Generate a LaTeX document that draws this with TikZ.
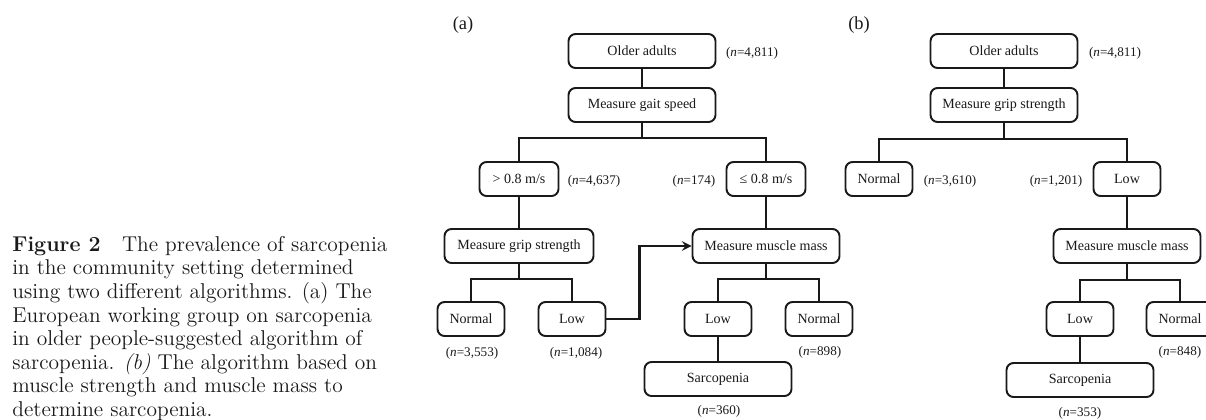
\documentclass[tikz,border=0pt]{standalone}
\usepackage{fontspec}
\usepackage{tikz}
\usetikzlibrary{arrows, positioning, calc}
\newfontfamily\tnr{Liberation Serif}
\newcommand{\boxheight}{0.68cm}
\definecolor{tinta}{RGB}{25,25,25}
\tikzset{>=stealth,
  block/.style = {draw=tinta, line width=1.1pt, rounded corners=4pt, minimum height=\boxheight, inner sep=1pt, font=\tnr\fontsize{8}{9}\selectfont, text=tinta},
  blockwide/.style = {block, minimum width=2.94cm},
  blockmid/.style = {block, minimum width=1.58cm},
  blocksmall/.style = {block, minimum width=1.34cm},
  count/.style = {font=\tnr\fontsize{7.5}{9}\selectfont, text=tinta, inner sep=0pt},
  conn/.style = {draw=tinta, line width=1.4pt}}

\begin{document}
\begin{tikzpicture}[x=0.02cm, y=-0.02cm]

  \useasboundingbox (0,0) rectangle (1206,419);
  \clip (0,0) rectangle (1206,419);

  \node [anchor=north west, align=left, inner sep=0pt, text=tinta, font=\fontsize{12.2}{13.4}\selectfont] (caption) at (12,236)
    {\textbf{Figure 2}\quad The prevalence of sarcopenia\\
     in the community setting determined\\
     using two different algorithms. (a) The\\
     European working group on sarcopenia\\
     in older people-suggested algorithm of\\
     sarcopenia. \textit{(b)} The algorithm based on\\
     muscle strength and muscle mass to\\
     determine sarcopenia.};

  % (a)
  \node [font=\tnr\fontsize{10.5}{12}\selectfont, text=tinta] (labelA) at (463,25) {(a)};
  \node [blockwide] (olderA) at (642,51) {Older adults};
  \node [count] (nOlderA) at (752,53) {(\textit{n}=4,811)};
  \node [blockwide] (gaitA) at (642,105) {Measure gait speed};
  \coordinate (splitA) at (642,138);
  \node [blockmid] (fastA) at (519,179) {> 0.8 m/s};
  \node [count] (nFastA) at (594,181) {(\textit{n}=4,637)};
  \node [count] (nSlowA) at (694,181) {(\textit{n}=174)};
  \node [blockmid] (slowA) at (766,179) {≤ 0.8 m/s};
  \node [blockwide, minimum width=2.98cm] (gripA) at (519,246) {Measure grip strength};
  \coordinate (splitGripA) at (519,279);
  \node [blocksmall] (normalA) at (471,319) {Normal};
  \node [blocksmall] (lowA) at (572,319) {Low};
  \node [count] (nNormalA) at (472,353) {(\textit{n}=3,553)};
  \node [count] (nLowA) at (576,353) {(\textit{n}=1,084)};
  \node [blockwide] (massA) at (766,246) {Measure muscle mass};
  \coordinate (splitMassA) at (766,279);
  \node [blocksmall] (lowMassA) at (718,319) {Low};
  \node [blocksmall] (normalMassA) at (819,319) {Normal};
  \node [count] (nNormalMassA) at (820,352) {(\textit{n}=898)};
  \node [blockwide] (sarcA) at (718,379) {Sarcopenia};
  \node [count] (nSarcA) at (719,411) {(\textit{n}=360)};

  \draw [conn] (olderA) -- (gaitA);
  \draw [conn] (gaitA) -- (splitA);
  \draw [conn] (fastA) |- (splitA) -| (slowA);
  \draw [conn] (fastA) -- (gripA);
  \draw [conn] (gripA) -- (splitGripA);
  \draw [conn] (normalA) |- (splitGripA) -| (lowA);
  \draw [conn] (slowA) -- (massA);
  \draw [conn] (massA) -- (splitMassA);
  \draw [conn] (lowMassA) |- (splitMassA) -| (normalMassA);
  \draw [conn] (lowMassA) -- (sarcA);
  \draw [conn, ->] (lowA.east) -- ++(33,0) |- (massA);

  % (b)
  \node [font=\tnr\fontsize{10.5}{12}\selectfont, text=tinta] (labelB) at (859,25) {(b)};
  \node [blockwide] (olderB) at (1004,51) {Older adults};
  \node [count] (nOlderB) at (1115,53) {(\textit{n}=4,811)};
  \node [blockwide] (gripB) at (1004,105) {Measure grip strength};
  \coordinate (splitB) at (1004,139);
  \node [blocksmall] (normalB) at (879,179) {Normal};
  \node [count] (nNormalB) at (950,181) {(\textit{n}=3,610)};
  \node [count] (nLowB) at (1056,181) {(\textit{n}=1,201)};
  \node [blocksmall] (lowB) at (1127,179) {Low};
  \node [blockwide] (massB) at (1127,246) {Measure muscle mass};
  \coordinate (splitMassB) at (1127,280);
  \node [blocksmall] (lowMassB) at (1080,319) {Low};
  \node [blocksmall] (normalMassB) at (1180,319) {Normal};
  \node [count] (nNormalMassB) at (1180,352) {(\textit{n}=848)};
  \node [blockwide] (sarcB) at (1080,380) {Sarcopenia};
  \node [count] (nSarcB) at (1080,413) {(\textit{n}=353)};

  \draw [conn] (olderB) -- (gripB);
  \draw [conn] (gripB) -- (splitB);
  \draw [conn] (normalB) |- (splitB) -| (lowB);
  \draw [conn] (lowB) -- (massB);
  \draw [conn] (massB) -- (splitMassB);
  \draw [conn] (lowMassB) |- (splitMassB) -| (normalMassB);
  \draw [conn] (lowMassB) -- (sarcB);

\end{tikzpicture}
\end{document}
